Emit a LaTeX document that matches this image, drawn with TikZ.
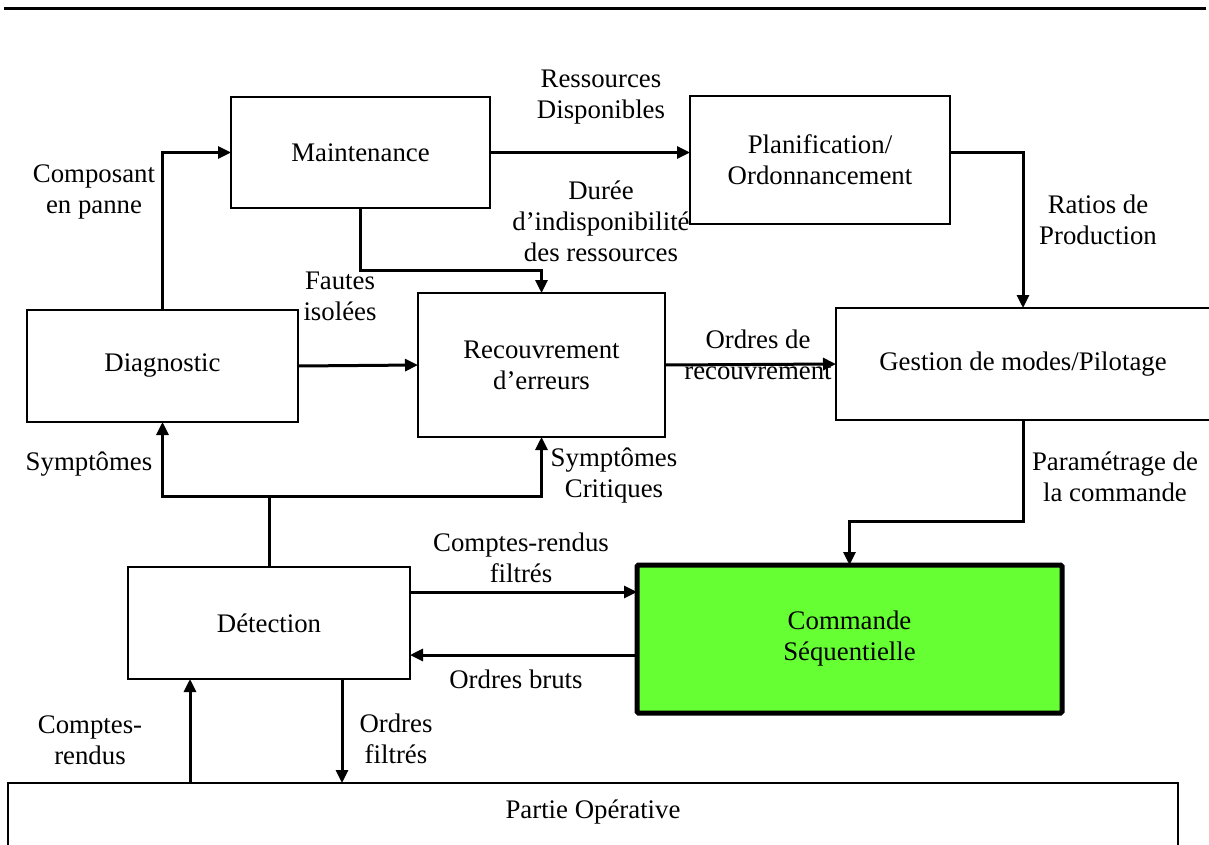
\documentclass[tikz,border=0pt]{standalone}
\usepackage{fontspec}
\setmainfont{Liberation Serif}
\usetikzlibrary{arrows.meta}
\definecolor{cmdgreen}{RGB}{102,255,51}
\begin{document}
\begin{tikzpicture}[x=1pt,y=-1pt,
  every node/.style={font=\fontsize{26.8}{31}\selectfont, align=center, inner sep=0pt, outer sep=0pt},
  blk/.style={draw, line width=2pt},
  cmdblk/.style={draw, line width=5pt, fill=cmdgreen, rounded corners=1.5pt},
  conn/.style={line width=3pt, -{Triangle[length=13pt,width=12pt]}},
  wire/.style={line width=3pt},
  lbl/.style={}]
\useasboundingbox (0,0) rectangle (1209,845);

% header rule
\draw[line width=3pt] (4,9) -- (1206,9);

% blocks
\node[blk, minimum width=259, minimum height=111] (maint) at (360.5,152.5) {Maintenance};
\node[blk, minimum width=260, minimum height=128] (plan) at (820,160) {Planification/\\Ordonnancement};
\node[blk, minimum width=271, minimum height=112] (diag) at (162.5,366) {Diagnostic};
\node[blk, minimum width=247, minimum height=144] (recov) at (541.5,365) {Recouvrement\\d’erreurs};
\node[blk, minimum width=374, minimum height=112] (gest) at (1023,364) {Gestion de modes/Pilotage};
\node[blk, minimum width=282, minimum height=112] (det) at (269,623) {Détection};
\node[cmdblk, minimum width=425, minimum height=148] (cmd) at (849.5,639) {Commande\\Séquentielle};
\node[blk, anchor=north west, minimum width=1170, minimum height=120] (po) at (8,783) {};
\node (potext) at (593,812) {Partie Opérative};

% connector labels
\node[lbl] (lres) at (601,97) {Ressources\\Disponibles};
\node[lbl] (lcomp) at (94,192) {Composant\\en panne};
\node[lbl] (ldur) at (601,221) {Durée\\d’indisponibilité\\des ressources};
\node[lbl] (lfaut) at (340,296) {Fautes\\isolées};
\node[lbl] (lordrec) at (758,355) {Ordres de\\recouvrement};
\node[lbl] (lratio) at (1098,220) {Ratios de\\Production};
\node[lbl] (lparam) at (1115,477) {Paramétrage de\\la commande};
\node[lbl] (lsym) at (89,464) {Symptômes};
\node[lbl] (lsymc) at (614,476) {Symptômes\\Critiques};
\node[lbl] (lcrf) at (521,558) {Comptes-rendus\\filtrés};
\node[lbl] (lob) at (516,679) {Ordres bruts};
\node[lbl] (lcr) at (90,740) {Comptes-\\rendus};
\node[lbl] (lof) at (396,739) {Ordres\\filtrés};

% connectors
\draw[conn] (diag.north) |- (maint.west);
\draw[conn] (maint.east) -- (maint.east -| plan.west);
\draw[conn] (maint.south) -- ++(0,62) -| (recov.north);
\draw[conn] (plan.east |- maint.east) -| (gest.north);
\draw[conn] (diag.east) -- (recov.west);
\draw[conn] (recov.east) -- (gest.west);
\draw[wire] (det.north) -- ++(0,-71) coordinate (split);
\draw[conn] (split) -| (diag.south);
\draw[conn] (split) -| (recov.south);
\draw[conn] (gest.south) -- ++(0,101) -| (cmd.north);
\coordinate (crfout) at ([yshift=31pt]det.east);
\draw[conn] (crfout) -- (crfout -| cmd.west);
\coordinate (obin) at ([yshift=-32pt]det.east);
\draw[conn] (cmd.west |- obin) -- (obin);
\coordinate (crin) at ([xshift=-79pt]det.south);
\draw[conn] (po.north -| crin) -- (crin);
\coordinate (ofout) at ([xshift=73pt]det.south);
\draw[conn] (ofout) -- (po.north -| ofout);
\end{tikzpicture}
\end{document}
